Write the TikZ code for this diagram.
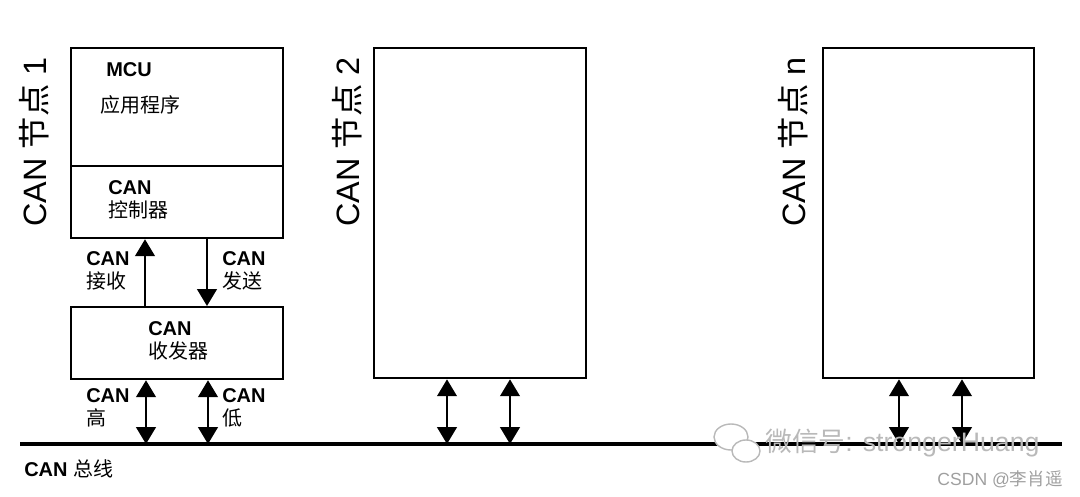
\documentclass[tikz,border=0pt]{standalone}
\usepackage{fontspec}
\setmainfont{Liberation Sans}
\newfontfamily\cjk{Noto Sans CJK SC}
\usetikzlibrary{arrows.meta, calc}
\newcommand{\zh}[1]{{\cjk #1}}
\newcommand{\lbl}[2]{\textbf{#1}\\\zh{#2}}

\begin{document}
\begin{tikzpicture}[x=0.025cm, y=-0.025cm,
		box/.style={draw, line width=1.6pt, anchor=north west, inner sep=0pt},
		txt/.style={anchor=west, align=left, inner sep=0pt, font=\fontsize{14.2}{16.4}\selectfont},
		nodename/.style={rotate=90, inner sep=0pt, font=\fontsize{23}{23}\selectfont},
		bus/.style={line width=2.2pt},
		sig/.style={line width=1.5pt, -{Triangle[width=14pt, length=12pt]}},
		bidir/.style={line width=1.5pt, {Triangle[width=14pt, length=12pt]}-{Triangle[width=14pt, length=12pt]}},
		wmark/.style={gray!55, inner sep=0pt}]
	\useasboundingbox (0,0) rectangle (1080,497);

	% node 1
	\node[box, minimum width=5.3cm, minimum height=2.95cm] (mcu) at (70,47) {};
	\node[box, minimum width=5.3cm, minimum height=1.8cm] (ctl) at (70,165) {};
	\node[box, minimum width=5.3cm, minimum height=1.8cm] (trx) at (70,306) {};
	\node[nodename] (name1) at (34,142) {CAN \zh{节点} 1};

	\node[txt, font=\fontsize{14.2}{16.4}\selectfont\bfseries] (mcutxt) at (106,70) {MCU};
	\node[txt] (apptxt) at (100,105) {\zh{应用程序}};
	\node[txt] (ctltxt) at (108,200) {\lbl{CAN}{控制器}};
	\node[txt] (trxtxt) at (148,341) {\lbl{CAN}{收发器}};

	% other nodes
	\node[box, minimum width=5.3cm, minimum height=8.25cm] (box2) at (373,47) {};
	\node[nodename] (name2) at (347,142) {CAN \zh{节点} 2};
	\node[box, minimum width=5.275cm, minimum height=8.25cm] (boxn) at (822,47) {};
	\node[nodename] (namen) at (793,142) {CAN \zh{节点} n};

	% bus
	\path (20,444) coordinate (busL) (1062,444) coordinate (busR);
	\draw[bus] (busL) -- (busR);
	\node[txt] (bustxt) at (24,469) {\textbf{CAN} \zh{总线}};

	% controller <-> transceiver
	\path (145,271) coordinate (rx) (207,271) coordinate (tx);
	\draw[sig] (rx |- trx.north) -- (rx |- ctl.south);
	\draw[sig] (tx |- ctl.south) -- (tx |- trx.north);
	\node[txt] (rxtxt) at (86,271) {\lbl{CAN}{接收}};
	\node[txt] (txtxt) at (222,271) {\lbl{CAN}{发送}};

	% transceivers <-> bus
	\path (146,444) coordinate (hi1) (208,444) coordinate (lo1)
		(447,444) coordinate (hi2) (510,444) coordinate (lo2)
		(899,444) coordinate (hin) (962,444) coordinate (lon);
	\draw[bidir] (hi1) -- (hi1 |- trx.south);
	\draw[bidir] (lo1) -- (lo1 |- trx.south);
	\draw[bidir] (hi2) -- (hi2 |- box2.south);
	\draw[bidir] (lo2) -- (lo2 |- box2.south);
	\draw[bidir] (hin) -- (hin |- boxn.south);
	\draw[bidir] (lon) -- (lon |- boxn.south);
	\node[txt] (hitxt) at (86,408) {\lbl{CAN}{高}};
	\node[txt] (lotxt) at (222,408) {\lbl{CAN}{低}};

	% watermark
	\draw[wmark, line width=1pt, fill=white] (731,437) ellipse (17 and 13);
	\draw[wmark, line width=1pt, fill=white] (746,451) ellipse (14 and 11);
	\node[wmark, anchor=west, font=\fontsize{19}{19}\selectfont] (wxtxt) at (765,443) {\zh{微信号}: strongerHuang};
	\node[wmark, gray!75, anchor=east, font=\fontsize{12.5}{12.5}\selectfont] (csdntxt) at (1063,479) {CSDN @\zh{李肖遥}};
\end{tikzpicture}
\end{document}
